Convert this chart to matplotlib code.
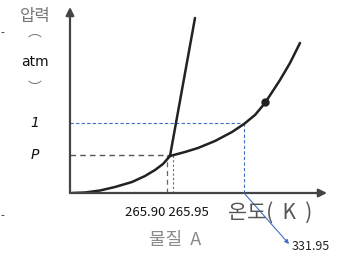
import matplotlib
matplotlib.use("Agg")
import matplotlib.pyplot as plt

plt.rcParams['font.family'] = ['Noto Sans CJK KR', 'DejaVu Sans']

# schematic phase diagram (arbitrary units: x = temperature, y = pressure)
subl_x = [2, 15, 30, 45, 62, 75, 85, 93, 100]
subl_y = [0, 0.5, 2.5, 6, 11, 17, 23, 29, 37]
vap_x = [100, 115, 128, 145, 162, 174, 185, 195, 210, 220, 230]
vap_y = [37, 41, 45, 52, 61, 69, 78, 90, 113, 130, 150]
fus_x = [100, 125]
fus_y = [37, 175]
triple = (100, 38)
p1_x = 174          # temperature where vapour pressure = 1 atm
p1_y = 70
dot = (195, 91)
tick_labels = ['265.90 265.95']
t1_label = '331.95'

fig = plt.figure(figsize=(3.41, 2.62), dpi=100)
ax = fig.add_axes([70 / 341, 69 / 262, 255 / 341, 185 / 262])
ax.set_xlim(0, 255)
ax.set_ylim(0, 185)
ax.axis('off')

# axes arrows
ax.annotate('', xy=(257, 0), xytext=(0, 0),
            arrowprops=dict(arrowstyle='-|>', color='#444444', lw=1.6,
                            mutation_scale=12, shrinkA=0, shrinkB=0),
            annotation_clip=False)
ax.annotate('', xy=(0, 186), xytext=(0, 0),
            arrowprops=dict(arrowstyle='-|>', color='#444444', lw=1.6,
                            mutation_scale=12, shrinkA=0, shrinkB=0),
            annotation_clip=False)

# guide lines
ax.plot([0, p1_x], [p1_y, p1_y], color='#3f6fc4', lw=0.8, ls=(0, (3, 2)))
ax.plot([p1_x, p1_x], [0, p1_y], color='#3f6fc4', lw=0.8, ls=(0, (3, 2)))
ax.plot([0, triple[0]], [triple[1], triple[1]], color='#555555', lw=1.0,
        ls=(0, (4, 3)))
ax.plot([triple[0] - 3, triple[0] - 3], [0, triple[1]], color='#666666',
        lw=0.9, ls=(0, (4, 3)))
ax.plot([triple[0] + 3, triple[0] + 3], [0, triple[1] + 2], color='#3f6fc4',
        lw=0.8, ls=(0, (2, 2)))

# phase boundaries
ax.plot(subl_x, subl_y, color='#222222', lw=1.8, solid_capstyle='round',
        solid_joinstyle='round')
ax.plot(vap_x, vap_y, color='#222222', lw=1.8, solid_capstyle='round',
        solid_joinstyle='round')
ax.plot(fus_x, fus_y, color='#222222', lw=1.8, solid_capstyle='round')
ax.plot(*dot, 'o', color='#222222', ms=5)

# arrow to 331.95
ax.annotate('', xy=(219, -51), xytext=(p1_x, 0),
            arrowprops=dict(arrowstyle='-|>', color='#3f6fc4', lw=0.8,
                            mutation_scale=6, shrinkA=0, shrinkB=0),
            annotation_clip=False)
ax.text(222, -53, t1_label, fontsize=9, color='#222222', va='center',
        ha='left', clip_on=False)

# x labels
ax.text(97, -19, tick_labels[0], fontsize=9.5, color='#111111',
        ha='center', va='center', clip_on=False)
ax.text(200, -20, '온도(  K  )', fontsize=15, color='#555555',
        ha='center', va='center', clip_on=False)
ax.text(105, -47, '물질  A', fontsize=13, color='#8a8a8a',
        ha='center', va='center', clip_on=False)

# y labels
ax.text(-35, 176, '압력', fontsize=12, color='#777777', ha='center',
        va='center', clip_on=False)
ax.text(-35, 161, '︵', fontsize=10, color='#777777', ha='center',
        va='center', clip_on=False)
ax.text(-35, 131, 'atm', fontsize=10, color='#111111', ha='center',
        va='center', clip_on=False, family='DejaVu Sans')
ax.text(-35, 105, '︶', fontsize=10, color='#777777', ha='center',
        va='center', clip_on=False)
ax.text(-35, p1_y, '1', fontsize=10, color='#111111', style='italic',
        ha='center', va='center', clip_on=False, family='DejaVu Sans')
ax.text(-35, triple[1], 'P', fontsize=10, color='#111111', style='italic',
        ha='center', va='center', clip_on=False, family='DejaVu Sans')

fig.text(0.0, 1 - 33 / 262, '-', fontsize=8, color='#222222', va='center')
fig.text(0.0, 1 - 216 / 262, '-', fontsize=8, color='#222222', va='center')

fig.savefig('out.png', dpi=100)
